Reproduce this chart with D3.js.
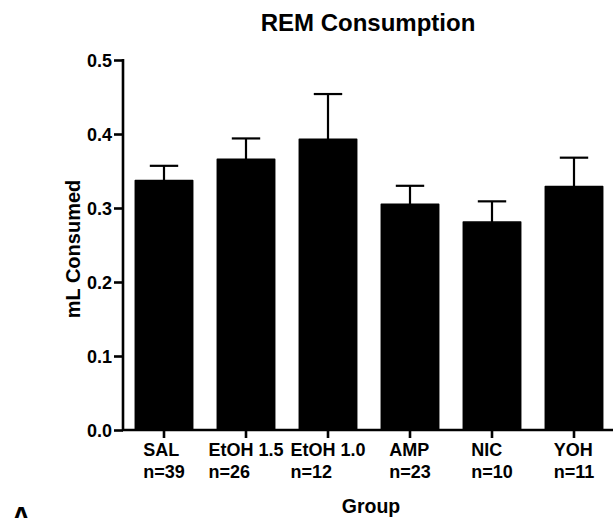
<!DOCTYPE html>
<html>
<head>
<meta charset="utf-8">
<script src="https://cdn.jsdelivr.net/npm/d3@7"></script>
<style>
  html, body { margin: 0; padding: 0; background: #fff; overflow: hidden; }
  svg { display: block; }
  text { font-family: "Liberation Sans", Arial, Helvetica, sans-serif; font-weight: bold; fill: #000; }
</style>
</head>
<body>
<svg id="chart" width="613" height="518"></svg>
<script>
// ---- data ----
const categories = ["SAL", "EtOH 1.5", "EtOH 1.0", "AMP", "NIC", "YOH"];
const sampleSizes = ["n=39", "n=26", "n=12", "n=23", "n=10", "n=11"];
const means = [0.337, 0.366, 0.393, 0.305, 0.281, 0.329];
const sems = [0.020, 0.028, 0.061, 0.025, 0.028, 0.039];
const yTicks = [0.0, 0.1, 0.2, 0.3, 0.4, 0.5];
const title = "REM Consumption";
const yLabel = "mL Consumed";
const xLabel = "Group";
const panelLetter = "A";

(function () {
// ---- layout ----
const svg = d3.select("#chart");
const mLeft = 123, mRight = 615, mTop = 60, mBottom = 430;

const x = d3.scaleBand()
  .domain(categories)
  .range([mLeft, mRight])
  .paddingInner(0.3)
  .paddingOuter(0.15);

const y = d3.scaleLinear().domain([0, 0.5]).range([mBottom, mTop]);

const rows = categories.map((c, i) => ({ cat: c, n: sampleSizes[i], mean: means[i], sem: sems[i] }));

// bars
svg.append("g").selectAll("rect").data(rows).join("rect")
  .attr("x", d => x(d.cat))
  .attr("y", d => y(d.mean))
  .attr("width", x.bandwidth())
  .attr("height", d => y(0) - y(d.mean))
  .attr("fill", "#000")
  .attr("stroke", "#000")
  .attr("stroke-width", 1.5)
  .attr("stroke-linejoin", "round");

// error bars (upper only)
const eb = svg.append("g").attr("stroke", "#000").attr("stroke-width", 2.2);
rows.forEach(d => {
  const cx = x(d.cat) + x.bandwidth() / 2;
  eb.append("line").attr("x1", cx).attr("x2", cx)
    .attr("y1", y(d.mean)).attr("y2", y(d.mean + d.sem));
  eb.append("line").attr("x1", cx - 14.2).attr("x2", cx + 14.2)
    .attr("y1", y(d.mean + d.sem)).attr("y2", y(d.mean + d.sem));
});

// y axis
const yAxis = svg.append("g").attr("transform", `translate(${mLeft},0)`)
  .call(d3.axisLeft(y).tickValues(yTicks).tickFormat(d3.format(".1f")).tickSize(9).tickPadding(2));
yAxis.select(".domain").attr("d", `M0,${mTop - 1}V${mBottom + 1}`).attr("stroke-width", 2.6);
yAxis.selectAll(".tick line").attr("stroke-width", 2.6);
yAxis.selectAll(".tick text").attr("font-size", 18).attr("dy", "0.36em");
yAxis.attr("font-family", null).attr("font-size", null);

// x axis
const xAxis = svg.append("g").attr("transform", `translate(0,${mBottom})`)
  .call(d3.axisBottom(x).tickSize(8).tickFormat(""));
xAxis.select(".domain").attr("d", `M${mLeft - 1},0H613`).attr("stroke-width", 2.6);
xAxis.selectAll(".tick line").attr("stroke-width", 2.6);

// category labels: two lines, left-aligned, block centred on tick
const labG = svg.append("g");
rows.forEach(d => {
  const cx = x(d.cat) + x.bandwidth() / 2;
  const t = labG.append("text").attr("font-size", 18).attr("text-anchor", "start");
  const t1 = t.append("tspan").attr("x", 0).attr("y", 456).text(d.cat);
  const t2 = t.append("tspan").attr("x", 0).attr("y", 477.5).text(d.n);
  const w = Math.max(t1.node().getComputedTextLength(), t2.node().getComputedTextLength());
  t1.attr("x", cx - w / 2);
  t2.attr("x", cx - w / 2);
});

// title
svg.append("text").attr("x", 368).attr("y", 30.5).attr("text-anchor", "middle")
  .attr("font-size", 24).text(title);

// y label
svg.append("text").attr("transform", "translate(80,249) rotate(-90)")
  .attr("text-anchor", "middle").attr("font-size", 20).text(yLabel);

// x label
svg.append("text").attr("x", 371).attr("y", 513).attr("text-anchor", "middle")
  .attr("font-size", 19.5).text(xLabel);

// panel letter (cut off at the bottom edge)
svg.append("text").attr("x", 21).attr("y", 526).attr("text-anchor", "middle")
  .attr("font-size", 28).text(panelLetter);
})();
</script>
</body>
</html>
